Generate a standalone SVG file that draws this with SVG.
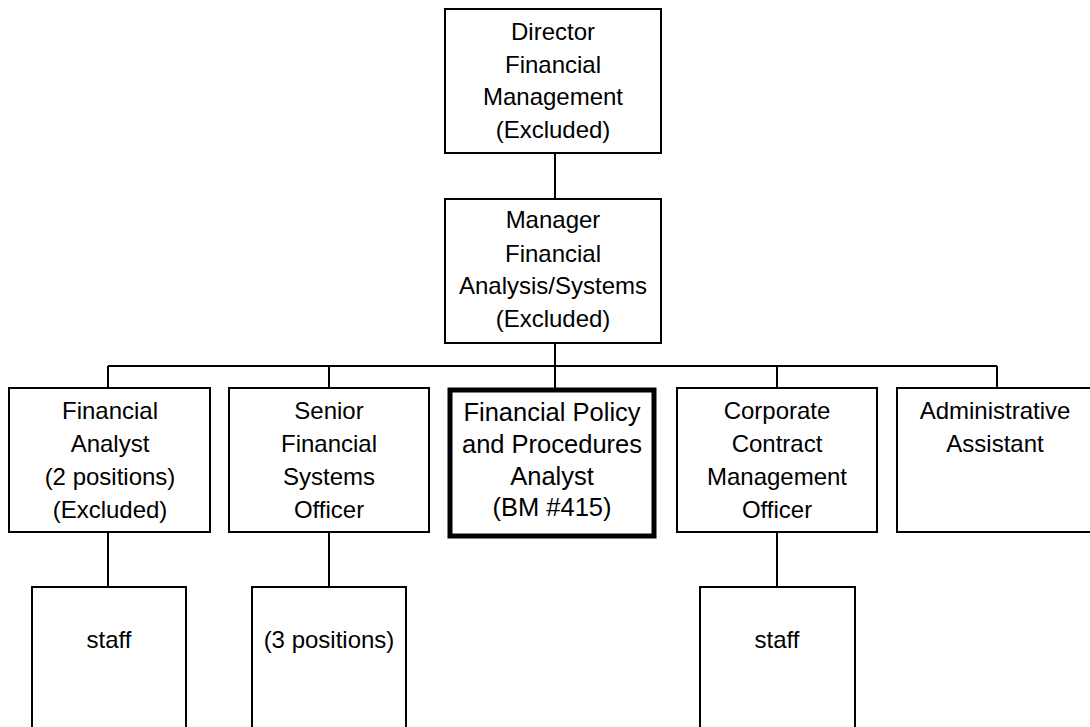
<svg xmlns="http://www.w3.org/2000/svg" width="1090" height="727" viewBox="0 0 1090 727">
<style>
.box{fill:#fff;stroke:#000;stroke-width:2}
.thick{fill:#fff;stroke:#000;stroke-width:5}
.ln{fill:none;stroke:#000;stroke-width:2}
text{font-family:"Liberation Sans",Arial,sans-serif;font-size:24px;fill:#000;text-anchor:middle}
.p{font-size:25.5px}
</style>
<rect width="1090" height="727" fill="#fff"/>
<g id="connectors">
<path class="ln" d="M555 153V199M555 343V366M108 366H997M108 366V388M329 366V388M555 366V388M777 366V388M997 366V388M108 532V587M329 532V587M777 532V587"/>
</g>
<g id="director">
<rect class="box" x="445" y="9" width="216" height="144"/>
<text x="553" y="40">Director</text>
<text x="553" y="73">Financial</text>
<text x="553" y="105">Management</text>
<text x="553" y="138">(Excluded)</text>
</g>
<g id="manager">
<rect class="box" x="445" y="199" width="216" height="144"/>
<text x="553" y="228">Manager</text>
<text x="553" y="262">Financial</text>
<text x="553" y="294">Analysis/Systems</text>
<text x="553" y="327">(Excluded)</text>
</g>
<g id="financial-analyst">
<rect class="box" x="9" y="388" width="201" height="144"/>
<text x="110" y="419">Financial</text>
<text x="110" y="452">Analyst</text>
<text x="110" y="485">(2 positions)</text>
<text x="110" y="518">(Excluded)</text>
</g>
<g id="senior-fso">
<rect class="box" x="229" y="388" width="200" height="144"/>
<text x="329" y="419">Senior</text>
<text x="329" y="452">Financial</text>
<text x="329" y="485">Systems</text>
<text x="329" y="518">Officer</text>
</g>
<g id="policy-analyst">
<rect class="thick" x="450" y="390" width="204" height="146"/>
<text class="p" x="552" y="421">Financial Policy</text>
<text class="p" x="552" y="453">and Procedures</text>
<text class="p" x="552" y="485">Analyst</text>
<text class="p" x="552" y="516">(BM #415)</text>
</g>
<g id="corporate-cmo">
<rect class="box" x="677" y="388" width="200" height="144"/>
<text x="777" y="419">Corporate</text>
<text x="777" y="452">Contract</text>
<text x="777" y="485">Management</text>
<text x="777" y="518">Officer</text>
</g>
<g id="admin-assistant">
<rect class="box" x="897" y="388" width="200" height="144"/>
<text x="995" y="419">Administrative</text>
<text x="995" y="452">Assistant</text>
</g>
<g id="fa-staff">
<rect class="box" x="32" y="587" width="154" height="160"/>
<text x="109" y="648">staff</text>
</g>
<g id="sfso-positions">
<rect class="box" x="252" y="587" width="154" height="160"/>
<text x="329" y="648">(3 positions)</text>
</g>
<g id="ccmo-staff">
<rect class="box" x="700" y="587" width="155" height="160"/>
<text x="777" y="648">staff</text>
</g>
</svg>
